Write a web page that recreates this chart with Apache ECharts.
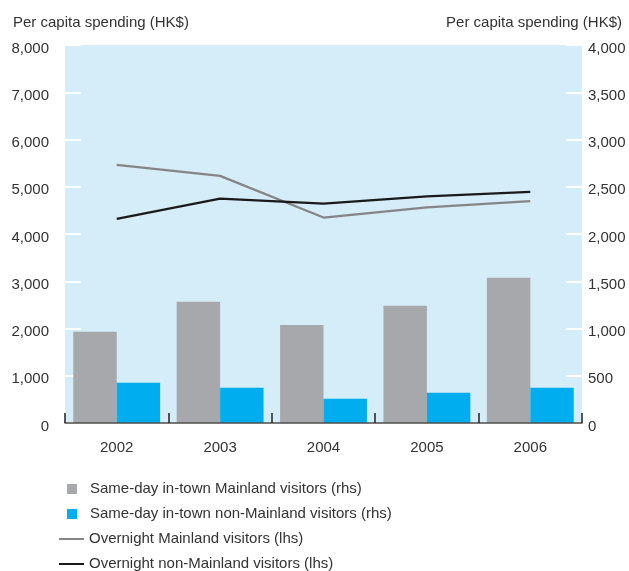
<!DOCTYPE html>
<html><head><meta charset="utf-8">
<script src="https://cdn.jsdelivr.net/npm/echarts@6/dist/echarts.min.js"></script>
<style>html,body{margin:0;padding:0;background:#fff}#c{width:629px;height:571px}</style>
</head><body><div id="c"></div>
<script>
var categories = ['2002','2003','2004','2005','2006'];
var sameDayMainland = [965, 1283, 1036, 1240, 1536];
var sameDayNonMainland = [426, 373, 257, 320, 373];
var overnightMainland = [5462, 5230, 4348, 4563, 4694];
var overnightNonMainland = [4320, 4750, 4644, 4796, 4891];
var leftTicks = {min: 0, max: 8000, interval: 1000};
var rightTicks = {min: 0, max: 4000, interval: 500};
var names = ['Same-day in-town Mainland visitors (rhs)','Same-day in-town non-Mainland visitors (rhs)','Overnight Mainland visitors (lhs)','Overnight non-Mainland visitors (lhs)'];
var axisTitle = 'Per capita spending (HK$)';

var FONT = '"Liberation Sans", Arial, sans-serif';
var TXT = '#333333';
function fmt(v){ return '{v|' + String(v).replace(/\B(?=(\d{3})+(?!\d))/g, ',') + '}'; }
var rich = {v:{fontFamily:FONT, fontSize:15, color:TXT, padding:[7,0,0,0]}};
var chart = echarts.init(document.getElementById('c'));
function leg(name, left, top, w, h, icon, pad){
  return {data:[{name:name, icon:icon}], orient:'vertical', left:left, top:top, padding:0,
    itemWidth:w, itemHeight:h, itemGap:0,
    textStyle:{fontFamily:FONT, fontSize:15, color:TXT, lineHeight:18, padding:[0,0,0,pad]}};
}
chart.setOption({
  animation:false,
  textStyle:{fontFamily:FONT},
  title:[
    {text:axisTitle, left:13, top:15, padding:0, textStyle:{fontFamily:FONT,fontSize:15,fontWeight:'normal',color:TXT}},
    {text:axisTitle, right:7, top:15, padding:0, textStyle:{fontFamily:FONT,fontSize:15,fontWeight:'normal',color:TXT}}
  ],
  legend:[
    leg(names[0], 67, 480, 10, 10, 'rect', 8),
    leg(names[1], 67, 505, 10, 10, 'rect', 8),
    leg(names[2], 59, 530, 25, 2, 'rect', 0),
    leg(names[3], 59, 555, 25, 2, 'rect', 0)
  ],
  grid:{left:65, right:47, top:45, bottom:148, show:true, backgroundColor:'#d5ecf9', borderWidth:0},
  xAxis:{type:'category', data:categories, boundaryGap:true, z:10,
    axisLine:{lineStyle:{color:'#4d4d4d', width:1.5}},
    axisTick:{show:true, inside:true, length:10, lineStyle:{color:'#222', width:1.5}},
    axisLabel:{fontFamily:FONT, fontSize:15, color:TXT, margin:17}},
  yAxis:[
    {type:'value', position:'left', min:leftTicks.min, max:leftTicks.max, interval:leftTicks.interval, z:1,
      axisLine:{show:false}, splitLine:{show:false},
      axisTick:{show:true, inside:true, length:16, lineStyle:{color:'#ffffff', width:2}},
      axisLabel:{fontFamily:FONT, fontSize:15, color:TXT, margin:16, formatter:fmt, rich:rich}},
    {type:'value', position:'right', min:rightTicks.min, max:rightTicks.max, interval:rightTicks.interval, z:1,
      axisLine:{show:false}, splitLine:{show:false},
      axisTick:{show:true, inside:true, length:16, lineStyle:{color:'#ffffff', width:2}},
      axisLabel:{fontFamily:FONT, fontSize:15, color:TXT, margin:6, formatter:fmt, rich:rich}}
  ],
  series:[
    {name:names[0], type:'bar', yAxisIndex:1, data:sameDayMainland, barGap:'0%', barCategoryGap:'16%', itemStyle:{color:'#a7a8ab'}},
    {name:names[1], type:'bar', yAxisIndex:1, data:sameDayNonMainland, barGap:'0%', barCategoryGap:'16%', itemStyle:{color:'#00aeef'}},
    {name:names[2], type:'line', yAxisIndex:0, data:overnightMainland, symbol:'none', lineStyle:{color:'#858585', width:2.2}, itemStyle:{color:'#858585'}},
    {name:names[3], type:'line', yAxisIndex:0, data:overnightNonMainland, symbol:'none', lineStyle:{color:'#1a1a1a', width:2.2}, itemStyle:{color:'#1a1a1a'}}
  ]
});
</script></body></html>
